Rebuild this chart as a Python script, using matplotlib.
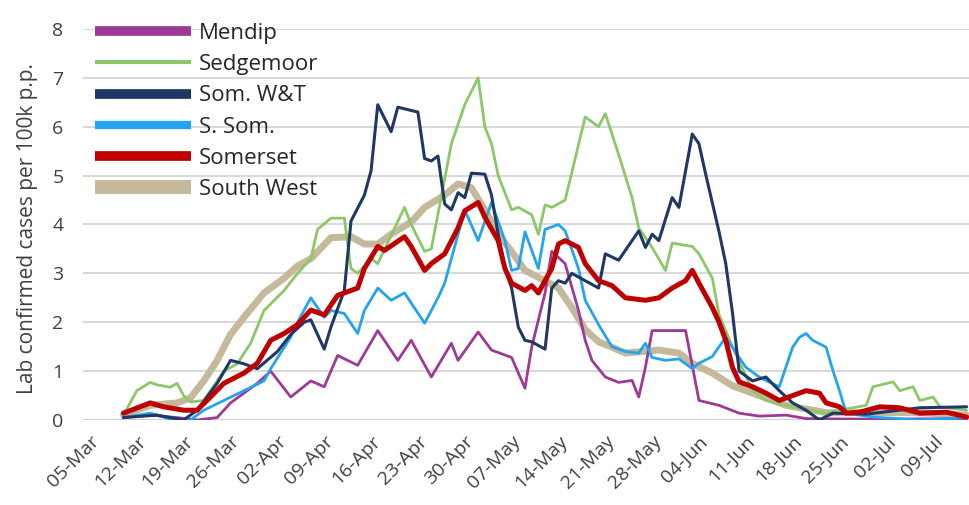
import pandas as pd
import matplotlib
matplotlib.use('Agg')
from matplotlib import pyplot as plt


plt.rcParams['font.family'] = ['Open Sans', 'DejaVu Sans']


# daily rate of lab confirmed cases per 100k population, 2020 (MM-DD)
mendip_days = ['03-10', '03-14', '03-18', '03-21', '03-24', '03-26', '03-30', '04-01', '04-04',
               '04-07', '04-09', '04-11', '04-14', '04-17', '04-20', '04-22', '04-25', '04-28',
               '04-29', '05-02', '05-04', '05-07', '05-09', '05-10', '05-12', '05-13', '05-15',
               '05-17', '05-18', '05-19', '05-21', '05-23', '05-25', '05-26', '05-27', '05-28',
               '06-02', '06-04', '06-07', '06-10', '06-13', '06-17', '06-20', '06-26', '07-05',
               '07-14']
mendip_vals = [0.05, 0.1, 0.05, 0.0, 0.05, 0.35, 0.75, 1.0, 0.47,
               0.8, 0.68, 1.32, 1.12, 1.83, 1.22, 1.63, 0.88, 1.57,
               1.22, 1.8, 1.43, 1.28, 0.65, 1.49, 2.6, 3.45, 3.2,
               2.24, 1.63, 1.22, 0.88, 0.77, 0.81, 0.47, 1.08, 1.83,
               1.83, 0.4, 0.3, 0.14, 0.08, 0.1, 0.03, 0.02, 0.02,
               0.03]

sedgemoor_days = ['03-10', '03-12', '03-14', '03-15', '03-17', '03-18', '03-19', '03-20', '03-22',
                  '03-23', '03-25', '03-27', '03-29', '03-31', '04-03', '04-05', '04-07', '04-08',
                  '04-10', '04-12', '04-13', '04-14', '04-16', '04-17', '04-21', '04-22', '04-24',
                  '04-25', '04-28', '04-30', '05-02', '05-03', '05-04', '05-05', '05-07', '05-08',
                  '05-10', '05-11', '05-12', '05-13', '05-15', '05-18', '05-20', '05-21', '05-23',
                  '05-25', '05-26', '05-28', '05-30', '05-31', '06-03', '06-04', '06-06', '06-07',
                  '06-09', '06-11', '06-12', '06-14', '06-18', '06-23', '06-25', '06-29', '06-30',
                  '07-03', '07-04', '07-06', '07-07', '07-09', '07-10', '07-14']
sedgemoor_vals = [0.1, 0.6, 0.77, 0.72, 0.67, 0.75, 0.5, 0.37, 0.4,
                  0.6, 1.0, 1.15, 1.57, 2.24, 2.65, 3.0, 3.3, 3.9,
                  4.13, 4.13, 3.1, 3.0, 3.3, 3.2, 4.35, 4.0, 3.45,
                  3.5, 5.65, 6.45, 7.0, 6.0, 5.65, 5.0, 4.3, 4.35,
                  4.2, 3.8, 4.4, 4.35, 4.5, 6.2, 6.0, 6.27, 5.43,
                  4.55, 3.93, 3.53, 3.06, 3.62, 3.55, 3.4, 2.9, 2.15,
                  1.5, 0.9, 0.6, 0.4, 0.27, 0.14, 0.2, 0.3, 0.68,
                  0.78, 0.6, 0.68, 0.4, 0.47, 0.27, 0.2]

somwt_days = ['03-10', '03-15', '03-19', '03-21', '03-24', '03-26', '03-28', '03-30', '04-02',
              '04-04', '04-06', '04-07', '04-09', '04-10', '04-12', '04-13', '04-15', '04-16',
              '04-17', '04-19', '04-20', '04-23', '04-24', '04-25', '04-26', '04-27', '04-28',
              '04-29', '04-30', '05-01', '05-03', '05-04', '05-05', '05-06', '05-07', '05-08',
              '05-09', '05-10', '05-12', '05-13', '05-14', '05-15', '05-16', '05-18', '05-20',
              '05-21', '05-23', '05-24', '05-26', '05-27', '05-28', '05-29', '05-31', '06-01',
              '06-03', '06-04', '06-05', '06-07', '06-08', '06-09', '06-10', '06-12', '06-14',
              '06-16', '06-18', '06-20', '06-22', '06-24', '06-29', '07-07', '07-14']
somwt_vals = [0.05, 0.1, 0.0, 0.2, 0.75, 1.22, 1.15, 1.05, 1.4,
              1.75, 2.0, 2.05, 1.45, 1.9, 2.65, 4.07, 4.6, 5.1,
              6.45, 5.9, 6.4, 6.3, 5.35, 5.3, 5.4, 4.42, 4.3,
              4.65, 4.55, 5.05, 5.03, 4.6, 3.8, 3.1, 2.7, 1.9,
              1.63, 1.6, 1.45, 2.7, 2.85, 2.8, 3.0, 2.85, 2.7,
              3.4, 3.27, 3.47, 3.87, 3.53, 3.8, 3.67, 4.55, 4.35,
              5.85, 5.65, 5.03, 3.85, 3.2, 2.2, 1.0, 0.8, 0.88,
              0.6, 0.35, 0.2, 0.0, 0.14, 0.12, 0.25, 0.27]

ssom_days = ['03-10', '03-14', '03-17', '03-20', '03-22', '03-25', '03-28', '03-31', '04-01',
             '04-04', '04-05', '04-07', '04-09', '04-10', '04-12', '04-14', '04-15', '04-17',
             '04-19', '04-21', '04-24', '04-26', '04-27', '04-28', '04-30', '05-02', '05-04',
             '05-06', '05-07', '05-08', '05-09', '05-11', '05-12', '05-14', '05-15', '05-17',
             '05-18', '05-20', '05-22', '05-24', '05-26', '05-27', '05-28', '05-30', '06-01',
             '06-03', '06-04', '06-06', '06-07', '06-08', '06-10', '06-11', '06-13', '06-14',
             '06-16', '06-18', '06-19', '06-20', '06-21', '06-23', '06-24', '06-25', '06-26',
             '06-30', '07-07', '07-14']
ssom_vals = [0.05, 0.14, 0.02, 0.0, 0.2, 0.4, 0.6, 0.8, 1.05,
             1.7, 2.0, 2.5, 2.1, 2.24, 2.18, 1.77, 2.24, 2.7,
             2.45, 2.6, 1.98, 2.5, 2.8, 3.3, 4.3, 3.67, 4.45,
             3.67, 3.06, 3.1, 3.85, 3.1, 3.9, 4.0, 3.87, 3.1,
             2.45, 1.95, 1.5, 1.4, 1.37, 1.57, 1.28, 1.22, 1.25,
             1.05, 1.16, 1.3, 1.5, 1.69, 1.28, 1.08, 0.88, 0.81,
             0.68, 1.49, 1.69, 1.77, 1.63, 1.49, 1.02, 0.6, 0.14,
             0.06, 0.0, 0.05]

somerset_days = ['03-10', '03-14', '03-16', '03-19', '03-21', '03-23', '03-25', '03-28', '03-30',
                 '04-01', '04-03', '04-05', '04-07', '04-09', '04-11', '04-14', '04-15', '04-17',
                 '04-18', '04-21', '04-22', '04-24', '04-25', '04-27', '04-29', '04-30', '05-02',
                 '05-03', '05-05', '05-06', '05-07', '05-09', '05-10', '05-11', '05-13', '05-14',
                 '05-15', '05-17', '05-18', '05-20', '05-22', '05-24', '05-27', '05-29', '05-31',
                 '06-02', '06-03', '06-04', '06-06', '06-07', '06-08', '06-09', '06-10', '06-12',
                 '06-14', '06-16', '06-18', '06-20', '06-22', '06-23', '06-25', '06-26', '06-28',
                 '07-01', '07-04', '07-07', '07-11', '07-14']
somerset_vals = [0.14, 0.35, 0.27, 0.2, 0.2, 0.47, 0.75, 0.96, 1.16,
                 1.63, 1.77, 1.95, 2.25, 2.15, 2.55, 2.7, 3.1, 3.55,
                 3.47, 3.75, 3.55, 3.06, 3.2, 3.4, 3.93, 4.28, 4.45,
                 4.15, 3.67, 3.1, 2.8, 2.65, 2.75, 2.6, 3.1, 3.6,
                 3.67, 3.53, 3.2, 2.85, 2.75, 2.5, 2.45, 2.5, 2.7,
                 2.85, 3.06, 2.8, 2.3, 2.0, 1.63, 1.08, 0.78, 0.68,
                 0.55, 0.4, 0.5, 0.6, 0.55, 0.35, 0.27, 0.14, 0.16,
                 0.27, 0.25, 0.14, 0.16, 0.06]

southwest_days = ['03-10', '03-14', '03-18', '03-20', '03-22', '03-24', '03-26', '03-28', '03-31',
                  '04-03', '04-05', '04-07', '04-10', '04-13', '04-15', '04-17', '04-19', '04-22',
                  '04-24', '04-27', '04-29', '05-01', '05-03', '05-05', '05-07', '05-09', '05-12',
                  '05-14', '05-16', '05-18', '05-20', '05-22', '05-24', '05-29', '06-01', '06-03',
                  '06-06', '06-09', '06-13', '06-17', '06-23', '06-29', '07-07', '07-14']
southwest_vals = [0.1, 0.3, 0.35, 0.45, 0.8, 1.22, 1.75, 2.1, 2.6,
                  2.9, 3.15, 3.3, 3.73, 3.75, 3.6, 3.6, 3.8, 4.05,
                  4.35, 4.6, 4.83, 4.75, 4.3, 3.8, 3.45, 3.06, 2.85,
                  2.7, 2.3, 1.85, 1.6, 1.49, 1.37, 1.43, 1.37, 1.16,
                  0.96, 0.7, 0.5, 0.3, 0.15, 0.15, 0.15, 0.1]

tick_days = ['03-05', '03-12', '03-19', '03-26', '04-02', '04-09', '04-16', '04-23', '04-30',
             '05-07', '05-14', '05-21', '05-28', '06-04', '06-11', '06-18', '06-25', '07-02',
             '07-09']


def to_dates(days):
    return pd.to_datetime(['2020-' + d for d in days])


fig = plt.figure(figsize=(9.7, 5.05), dpi=100)
ax = fig.add_axes([0.0856, 0.1683, 0.9144, 0.7743])

# name, days, values, colour, plot width, legend width, zorder
series = [
    ('South West', southwest_days, southwest_vals, '#C4B99B', 5.0, 10.0, 2),
    ('Mendip', mendip_days, mendip_vals, '#9E3A96', 2.0, 7.0, 3),
    ('Sedgemoor', sedgemoor_days, sedgemoor_vals, '#8CC768', 2.0, 3.0, 4),
    ('S. Som.', ssom_days, ssom_vals, '#22A4EE', 2.0, 6.0, 5),
    ('Som. W&T', somwt_days, somwt_vals, '#1F3864', 2.2, 7.0, 6),
    ('Somerset', somerset_days, somerset_vals, '#C00000', 3.6, 7.0, 7),
]
lines = {}
for name, days, vals, col, lw, leg_lw, z in series:
    ln, = ax.plot(to_dates(days), vals, color=col, lw=lw, zorder=z,
                  solid_joinstyle='round', solid_capstyle='round', label=name)
    lines[name] = (ln, leg_lw)

ax.set_xlim(pd.Timestamp('2020-03-03 23:00'), pd.Timestamp('2020-07-14 12:00'))
ax.set_ylim(0, 8)
ax.set_yticks(range(0, 9))
ax.set_xticks(to_dates(tick_days))
ax.set_xticklabels([d.strftime('%d-%b') for d in to_dates(tick_days)])

for s in ['top', 'right', 'left', 'bottom']:
    ax.spines[s].set_visible(False)
ax.grid(axis='y', color='#D9D9D9', lw=1.5, zorder=0)
ax.set_axisbelow(True)
ax.axhline(0, color='#D0D0D0', lw=2.2, zorder=1)

ax.tick_params(axis='y', length=0, pad=14, labelsize=14, labelcolor='#404040')
ax.tick_params(axis='x', length=0, pad=9, labelsize=14, labelcolor='#404040')
for lab in ax.get_xticklabels():
    lab.set_rotation(45)
    lab.set_ha('right')
    lab.set_va('top')
    lab.set_rotation_mode('anchor')

ax.set_ylabel('Lab confirmed cases per 100k p.p.', fontsize=15, color='#404040')
ax.yaxis.set_label_coords(-0.051, 0.49)

order = ['Mendip', 'Sedgemoor', 'Som. W&T', 'S. Som.', 'Somerset', 'South West']
leg = ax.legend([lines[n][0] for n in order], order, loc='upper left',
                bbox_to_anchor=(95 / 970, 1 - 23 / 505), bbox_transform=fig.transFigure,
                frameon=False, fontsize=16, handlelength=4.3, handletextpad=0.36,
                labelspacing=0.46, borderpad=0, borderaxespad=0)
for legline, n in zip(leg.get_lines(), order):
    legline.set_linewidth(lines[n][1])
    legline.set_solid_capstyle('butt')
for t in leg.get_texts():
    t.set_color('#262626')

plt.savefig('out.png', dpi=100)
